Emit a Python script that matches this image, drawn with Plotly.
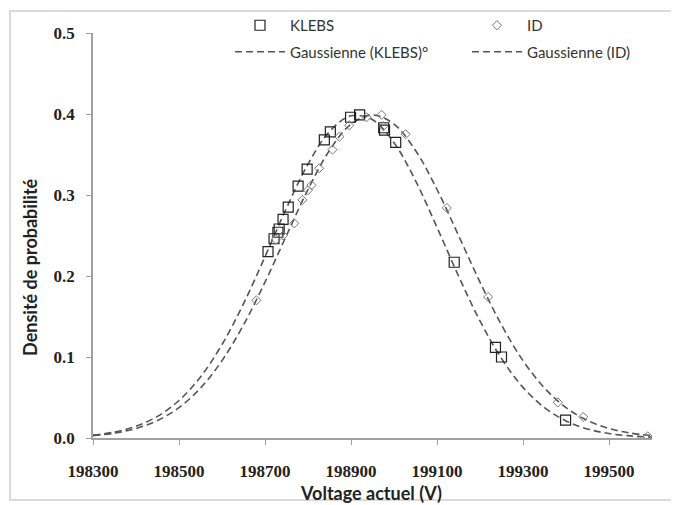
import plotly.graph_objects as go

# ---- data ----
klebs_x = [198707, 198721, 198730, 198733, 198742, 198754, 198777, 198798, 198838, 198852,
           198899, 198920, 198976, 198978, 199004, 199140, 199236, 199250, 199399]
klebs_y = [0.230, 0.246, 0.254, 0.258, 0.270, 0.285, 0.311, 0.332, 0.368, 0.378,
           0.396, 0.399, 0.383, 0.380, 0.365, 0.217, 0.112, 0.100, 0.022]

id_x = [198680, 198725, 198742, 198768, 198787, 198800, 198808, 198826, 198857, 198873,
        198896, 198936, 198971, 198975, 199027, 199123, 199219, 199381, 199440, 199590]
id_y = [0.170, 0.245, 0.250, 0.265, 0.294, 0.306, 0.312, 0.333, 0.356, 0.372,
        0.386, 0.396, 0.399, 0.385, 0.375, 0.284, 0.174, 0.044, 0.026, 0.002]

curve_x = [198300, 198350, 198400, 198450, 198500, 198550, 198600, 198650, 198700, 198750,
           198800, 198850, 198900, 198950, 199000, 199050, 199100, 199150, 199200, 199250,
           199300, 199350, 199400, 199450, 199500, 199550, 199600]
gauss_klebs = [0.0035, 0.0074, 0.0145, 0.0267, 0.0463, 0.0754, 0.1154, 0.1658, 0.2238, 0.2839,
               0.3381, 0.3784, 0.3978, 0.3929, 0.3645, 0.3177, 0.2601, 0.2000, 0.1445, 0.0981,
               0.0625, 0.0375, 0.0211, 0.0111, 0.0055, 0.0026, 0.0011]
gauss_id = [0.0029, 0.0060, 0.0117, 0.0216, 0.0375, 0.0617, 0.0955, 0.1396, 0.1924, 0.2501,
            0.3068, 0.3550, 0.3874, 0.3989, 0.3874, 0.3550, 0.3068, 0.2501, 0.1924, 0.1396,
            0.0955, 0.0617, 0.0375, 0.0216, 0.0117, 0.0060, 0.0029]

x_ticks = [198300, 198500, 198700, 198900, 199100, 199300, 199500]
y_ticks = [0.0, 0.1, 0.2, 0.3, 0.4, 0.5]

LEG_FONT = dict(family="Lato, 'Open Sans', sans-serif", size=15, color="#333")
TICK_FONT = dict(family="'Liberation Serif', serif", size=17, color="#222", weight="bold")
TITLE_FONT = dict(family="Lato, sans-serif", size=18, color="#222", weight="bold")

W, H = 671, 497

fig = go.Figure()
fig.add_trace(go.Scatter(x=curve_x, y=gauss_klebs, mode="lines", name="Gaussienne (KLEBS)°",
                         line=dict(color="#555", width=1.6, dash="7px,4px", shape="spline"),
                         legend="legend", legendrank=2, legendgroup="b"))
fig.add_trace(go.Scatter(x=curve_x, y=gauss_id, mode="lines", name="Gaussienne (ID)",
                         line=dict(color="#555", width=1.6, dash="7px,4px", shape="spline"),
                         legend="legend2", legendrank=2, legendgroup="d"))
fig.add_trace(go.Scatter(x=klebs_x, y=klebs_y, mode="markers", name="KLEBS",
                         marker=dict(symbol="square-open", size=10, color="#222",
                                     line=dict(width=1.2, color="#222")),
                         legend="legend", legendrank=1, legendgroup="a"))
fig.add_trace(go.Scatter(x=id_x, y=id_y, mode="markers", name="ID",
                         marker=dict(symbol="diamond-open", size=7, color="#777",
                                     line=dict(width=1, color="#777")),
                         legend="legend2", legendrank=1, legendgroup="c"))

fig.update_layout(
    width=W, height=H,
    margin=dict(l=85, r=27, t=25, b=67, autoexpand=False),
    paper_bgcolor="white", plot_bgcolor="white",
    font=dict(family="Lato, 'Open Sans', sans-serif", color="#222"),
    legend=dict(xref="container", yref="container", x=(242 - 20) / W, y=1 - 1 / H,
                xanchor="left", yanchor="top", orientation="v", itemwidth=50,
                font=LEG_FONT, bgcolor="rgba(0,0,0,0)", tracegroupgap=4, traceorder="grouped"),
    legend2=dict(xref="container", yref="container", x=(479 - 20) / W, y=1 - 1 / H,
                 xanchor="left", yanchor="top", orientation="v", itemwidth=50,
                 font=LEG_FONT, bgcolor="rgba(0,0,0,0)", tracegroupgap=4, traceorder="grouped"),
    xaxis=dict(range=[198300, 199600], tickvals=x_ticks, ticktext=[str(v) for v in x_ticks],
               showgrid=False, zeroline=False, showline=True, linecolor="#a0a0a0", linewidth=1.5,
               ticks="outside", ticklen=5, tickcolor="#a0a0a0", ticklabelstandoff=12,
               tickfont=TICK_FONT),
    yaxis=dict(range=[0, 0.5], tickvals=y_ticks, ticktext=[f"{v:.1f}" for v in y_ticks],
               showgrid=False, zeroline=False, showline=True, linecolor="#a0a0a0", linewidth=1.5,
               ticks="outside", ticklen=5, tickcolor="#a0a0a0", ticklabelstandoff=8,
               tickfont=TICK_FONT),
    annotations=[
        dict(text="Densité de probabilité", xref="paper", yref="paper", x=-0.1127, y=0.42,
             xanchor="center", yanchor="middle", textangle=-90, showarrow=False, font=TITLE_FONT),
        dict(text="Voltage actuel (V)", xref="paper", yref="paper", x=0.497, y=-0.1358,
             xanchor="center", yanchor="middle", showarrow=False, font=TITLE_FONT),
    ],
    shapes=[dict(type="rect", xref="paper", yref="paper",
                 x0=-0.1485, x1=1.1, y0=-0.1531, y1=1.0543,
                 line=dict(color="#cfcfcf", width=1.5), fillcolor="rgba(0,0,0,0)", layer="below")],
    showlegend=True,
)

fig.write_html("out.html")
